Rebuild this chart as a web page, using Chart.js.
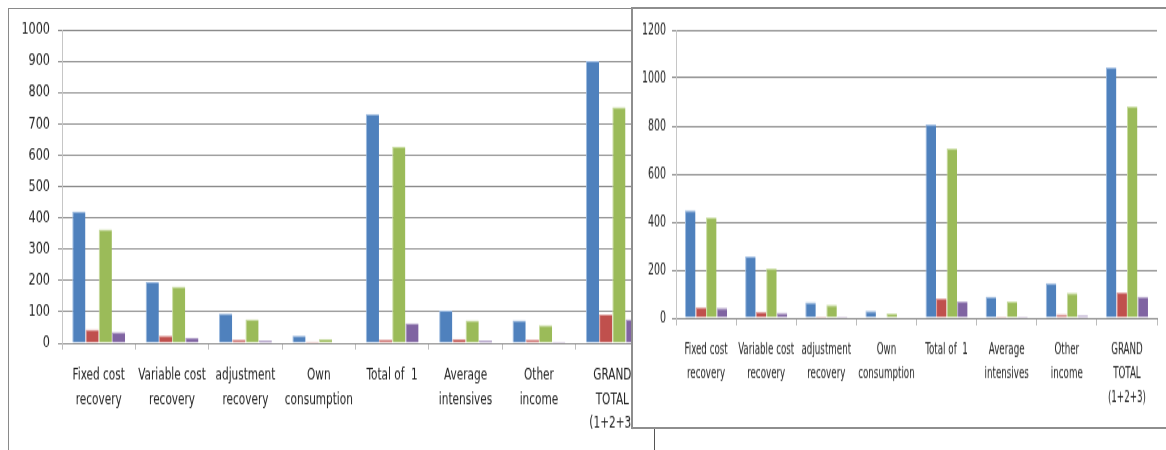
<!DOCTYPE html>
<html>
<head>
<meta charset="utf-8">
<script src="https://cdn.jsdelivr.net/npm/chart.js@4/dist/chart.umd.min.js"></script>
<style>
  html, body { margin: 0; padding: 0; background: #fff; }
  body { width: 1166px; height: 450px; position: relative; overflow: hidden; }
  .panel { position: absolute; background: #fff; box-sizing: border-box; }
  #leftPanel { left: 8px; top: 8px; width: 647px; height: 460px; border: 1px solid #8a8a8a; }
  #rightPanel { left: 631px; top: 7px; width: 560px; height: 422px; border: 2px solid #8e8e8e; }
  #stub { position: absolute; left: 654px; top: 429px; width: 1px; height: 30px; background: #555; }
  canvas { position: absolute; transform-origin: 0 0; }
  #leftChart { transform: scaleY(1.3); }
  #rightChart { transform: scaleY(1.5); }
</style>
</head>
<body>
<div class="panel" id="leftPanel"><canvas id="leftChart" width="646" height="339" style="left:0;top:0"></canvas></div>
<div class="panel" id="rightPanel"><canvas id="rightChart" width="533" height="279" style="left:-1px;top:0"></canvas></div>
<div id="stub"></div>
<script>
const categories = [
    ['Fixed cost', 'recovery'],
    ['Variable cost', 'recovery'],
    ['adjustment', 'recovery'],
    ['Own', 'consumption'],
    ['Total of  1'],
    ['Average', 'intensives'],
    ['Other', 'income'],
    ['GRAND', 'TOTAL', '(1+2+3)']
];

// left panel
const leftA = [420, 195, 94, 24, 731, 104, 73, 900];
const leftB = [44, 24, 11, 5, 11, 14, 11, 91];
const leftC = [363, 181, 76, 14, 627, 73, 57, 753];
const leftD = [35, 17, 8, 0, 63, 8, 4, 76];
const leftTicks = { min: 0, max: 1000, step: 100 };

// right panel
const rightA = [448, 256, 65, 30, 806, 89, 145, 1044];
const rightB = [46, 26, 7, 0, 82, 7, 15, 106];
const rightC = [418, 207, 54, 18, 707, 68, 104, 881];
const rightD = [42, 22, 6, 0, 69, 6, 11, 89];
const rightTicks = { min: 0, max: 1200, step: 200 };

const colors = ['#4f81bd', '#c0504d', '#9bbb59', '#8064a2'];
const edges = ['#9dbbe0', '#dd9a98', '#c8dca0', '#b3a2c9'];
const fontFamily = "'DejaVu Sans Condensed', 'Liberation Sans', sans-serif";

// canvases are stretched vertically in CSS, so sizes below are pre-stretch
function makeChart(id, series, range, opt) {
    const ctx = document.getElementById(id).getContext('2d');
    return new Chart(ctx, {
        type: 'bar',
        data: {
            labels: categories,
            datasets: series.map((values, i) => ({
                label: '',
                data: values,
                backgroundColor: colors[i],
                borderColor: edges[i],
                borderWidth: { left: 1, right: 0, top: 1, bottom: 0 },
                categoryPercentage: opt.groupWidth,
                barPercentage: 1
            }))
        },
        options: {
            responsive: false,
            animation: false,
            layout: { padding: { top: opt.padTop, right: opt.padRight, left: 0, bottom: 0 } },
            plugins: { legend: { display: false }, tooltip: { enabled: false } },
            scales: {
                x: {
                    offset: true,
                    grid: { offset: true, drawOnChartArea: false, tickLength: 5, color: '#bdbdbd' },
                    border: { color: '#8a8a8a' },
                    ticks: {
                        maxRotation: 0,
                        autoSkip: false,
                        padding: opt.labelPad,
                        color: '#222',
                        font: { family: fontFamily, size: opt.fontSize, lineHeight: opt.lineHeight }
                    },
                    afterFit: axis => { axis.height = opt.xHeight; }
                },
                y: {
                    min: range.min,
                    max: range.max,
                    grid: { color: '#8c8c8c', tickLength: 4 },
                    border: { color: '#c6c6c6' },
                    ticks: {
                        stepSize: range.step,
                        padding: opt.yPad,
                        color: '#222',
                        font: { family: fontFamily, size: opt.yFontSize },
                        callback: value => String(value)
                    },
                    afterFit: axis => { axis.width = opt.yWidth; }
                }
            }
        }
    });
}

makeChart('leftChart', [leftA, leftB, leftC, leftD], leftTicks, {
    groupWidth: 0.72, padTop: 16, padRight: 6, xHeight: 82, yWidth: 53,
    fontSize: 11.7, yFontSize: 12.5, lineHeight: 1.6, labelPad: 10.5, yPad: 8
});

makeChart('rightChart', [rightA, rightB, rightC, rightD], rightTicks, {
    groupWidth: 0.7, padTop: 14, padRight: 8, xHeight: 73, yWidth: 44,
    fontSize: 9.7, yFontSize: 10.5, lineHeight: 1.65, labelPad: 8, yPad: 6
});
</script>
</body>
</html>
